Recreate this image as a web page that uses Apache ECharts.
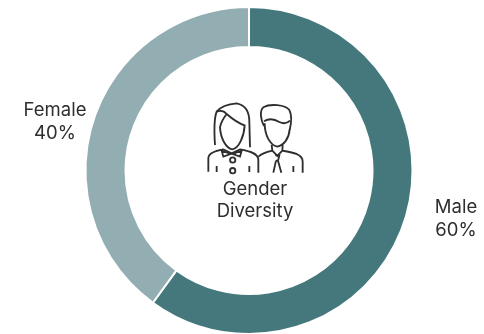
<!DOCTYPE html>
<html>
<head>
<meta charset="utf-8">
<style>html,body{margin:0;padding:0;background:#fff}#chart{width:484px;height:334px}</style>
<script src="https://cdn.jsdelivr.net/npm/echarts@6/dist/echarts.min.js"></script>
</head>
<body>
<div id="chart"></div>
<script>
const categories = ['Male', 'Female'];
const shares = [60, 40];
const sliceColors = ['#44787d', '#93aeb2'];
const centerCaption = 'Gender\nDiversity';

// Outline pictogram of two people, in a 390x270 local space
const iconPaths = [
  // woman: hair
  'M75 165 C72 120 72 85 80 65 C92 50 115 42 140 40 C165 45 178 65 178 95 L180 172',
  'M80 65 C88 62 100 60 110 72',
  // woman: face
  'M110 72 C125 85 145 100 164 106 C162 140 147 174 127 178 C107 174 92 145 90 112 C92 100 100 85 110 72',
  // woman: shoulders and bow
  'M55 245 L55 205 C55 190 70 183 100 178 L125 190 L150 178 C180 183 205 190 205 210 L205 248',
  'M95 182 L122 192 L100 200 Z M155 182 L128 192 L150 200 Z',
  'M80 228 L80 246 M178 228 L178 246',
  // woman: buttons
  'M128 202 a8 8 0 1 0 0.1 0 M128 234 a8 8 0 1 0 0.1 0',
  // man: hair
  'M222 108 C212 90 208 62 220 52 C240 40 285 44 298 60 C306 75 305 95 299 120',
  'M222 94 C238 84 255 88 268 96 C280 102 292 100 300 92',
  // man: face
  'M224 100 C224 135 240 166 262 170 C282 166 297 145 299 118',
  // man: collar, tie and shoulders
  'M245 165 L247 182 L262 198 L277 182 L278 165',
  'M205 200 C215 190 230 186 247 182 M277 182 C300 186 338 190 338 215 L338 248',
  'M256 196 L268 196 L264 212 L274 248 M258 212 L250 248 M258 212 L264 212',
  'M310 228 L310 246'
];

const chart = echarts.init(document.getElementById('chart'));

const labelAnchors = [
  { x: 456, y: 219 },
  { x: 55, y: 122 }
];

chart.setOption({
  animation: false,
  backgroundColor: '#ffffff',
  series: [{
    type: 'pie',
    center: [249, 170.5],
    radius: [123.5, 163.5],
    startAngle: 90,
    clockwise: true,
    silent: true,
    data: categories.map((name, i) => ({
      name,
      value: shares[i],
      itemStyle: { color: sliceColors[i], borderColor: '#ffffff', borderWidth: 2 }
    })),
    label: {
      show: true,
      formatter: p => p.name + '\n' + p.value + '%',
      color: '#2e2e2e',
      fontFamily: 'Inter',
      fontWeight: 400,
      fontSize: 18.5,
      lineHeight: 23,
      align: 'center',
      overflow: 'none'
    },
    labelLine: { show: false },
    labelLayout: p => ({
      x: labelAnchors[p.dataIndex].x,
      y: labelAnchors[p.dataIndex].y,
      align: 'center',
      verticalAlign: 'middle'
    })
  }, {
    // The pictogram in the middle of the ring
    type: 'custom',
    coordinateSystem: 'none',
    silent: true,
    data: [0],
    renderItem: () => ({
      type: 'group',
      x: 190,
      y: 90,
      scaleX: 1 / 3,
      scaleY: 1 / 3,
      children: iconPaths.map(d => ({
        type: 'path',
        shape: { pathData: d },
        style: { fill: 'none', stroke: '#2e2e2e', lineWidth: 5.5 }
      }))
    })
  }],
  graphic: [
    {
      type: 'text',
      x: 255,
      y: 200,
      silent: true,
      style: {
        text: centerCaption,
        fill: '#2e2e2e',
        font: '400 18.5px Inter',
        lineHeight: 22,
        align: 'center',
        verticalAlign: 'middle'
      }
    }
  ]
});
</script>
</body>
</html>
